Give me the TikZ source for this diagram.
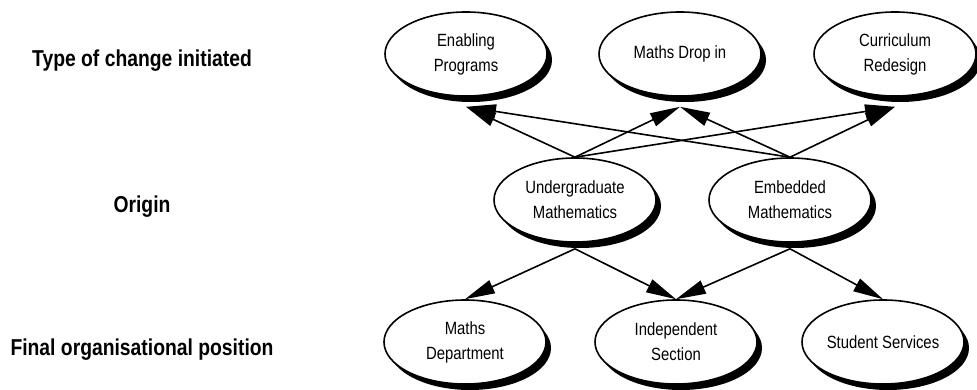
\documentclass[tikz,border=0pt]{standalone}
\usepackage{fontspec}
\setmainfont{Liberation Sans}[FakeStretch=0.84]
\usetikzlibrary{shapes.geometric,shadows,arrows.meta,calc}

\begin{document}
\begin{tikzpicture}[x=1pt,y=-1pt,
        box/.style={ellipse,draw,line width=1.6pt,fill=white,minimum width=162pt,minimum height=84pt,inner sep=0pt,align=center,
            font=\fontsize{17.7}{25}\selectfont,
            drop shadow={fill=black,opacity=1,shadow xshift=5pt,shadow yshift=-6pt}},
        lbl/.style={anchor=base,font=\fontsize{23}{28}\selectfont\bfseries},
        arr/.style={line width=1.6pt,-{Triangle[length=30pt,width=14pt]}}]
        \useasboundingbox (0,0) rectangle (977,390);
        % row labels
        \node[lbl] (type) at (142,67) {Type of change initiated};
        \node[lbl] (orig) at (142,212) {Origin};
        \node[lbl] (final) at (142,355) {Final organisational position};
        % type of change
        \node[box] (enab) at (466,54) {Enabling\\Programs};
        \node[box] (drop) at (680,54) {Maths Drop in};
        \node[box] (curr) at (895,54) {Curriculum\\Redesign};
        % origin
        \node[box] (under) at (575,200) {Undergraduate\\Mathematics};
        \node[box] (embed) at (790,200) {Embedded\\Mathematics};
        % final position
        \node[box] (dept) at (465,342) {Maths\\Department};
        \node[box] (indep) at (676,342) {Independent\\Section};
        \node[box] (serv) at (883,342) {Student Services};
        \foreach \s in {under,embed}
            \foreach \t in {enab,drop,curr}
                \draw[arr] (\s.north) -- ($(\t.south)+(0,10)$);
        \draw[arr] ($(under.south)+(0,6)$) -- (dept.north);
        \draw[arr] ($(under.south)+(0,6)$) -- (indep.north);
        \draw[arr] ($(embed.south)+(0,6)$) -- (indep.north);
        \draw[arr] ($(embed.south)+(0,6)$) -- (serv.north);
    \end{tikzpicture}
\end{document}
